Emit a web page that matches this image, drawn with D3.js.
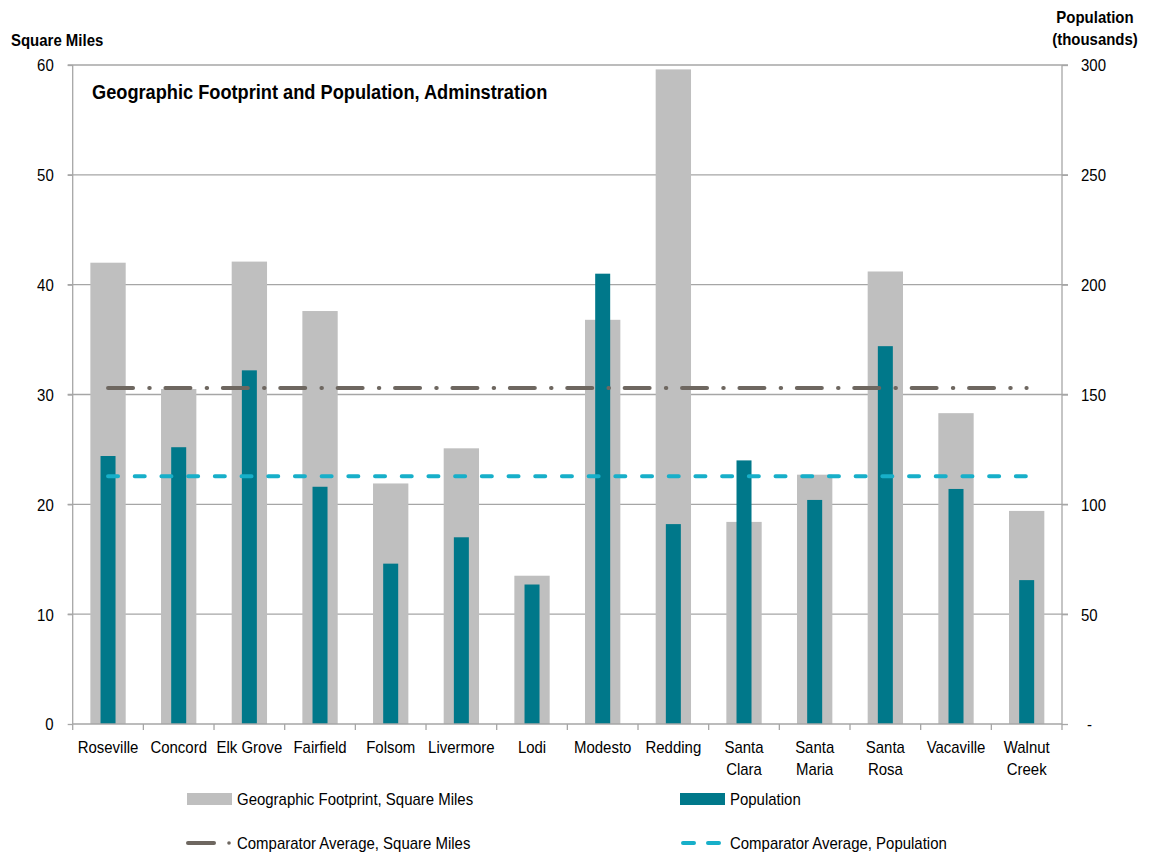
<!DOCTYPE html>
<html>
<head>
<meta charset="utf-8">
<script src="https://cdn.jsdelivr.net/npm/d3@7"></script>
<style>
  body { margin: 0; background: #fff; }
  text { font-family: "Liberation Sans", Arial, sans-serif; fill: #000; }
  .grid line { stroke: #a6a6a6; stroke-width: 1.3; }
  .axis path, .axis line { stroke: #a6a6a6; stroke-width: 1.3; }
</style>
</head>
<body>
<div id="chart"></div>
<script>
// data
var cities = ["Roseville", "Concord", "Elk Grove", "Fairfield", "Folsom", "Livermore", "Lodi",
  "Modesto", "Redding", "Santa Clara", "Santa Maria", "Santa Rosa", "Vacaville", "Walnut Creek"];
var squareMiles = [42.0, 30.5, 42.1, 37.6, 21.9, 25.1, 13.5, 36.8, 59.6, 18.4, 22.7, 41.2, 28.3, 19.4];
var population = [122, 126, 161, 108, 73, 85, 63.5, 205, 91, 120, 102, 172, 107, 65.5];
var avgSquareMiles = 30.6;
var avgPopulation = 112.8;
var leftTicks = [0, 10, 20, 30, 40, 50, 60];
var rightTicks = [0, 50, 100, 150, 200, 250, 300];

var width = 1154, height = 853;
var plotLeft = 72.7, plotRight = 1062, plotTop = 65, plotBottom = 724;
var squeeze = 0.88;  // reference font is a narrow face

// compress a text (or tspan) horizontally so it reads like the narrow font
function narrow(sel, f) {
  sel.each(function () {
    var len = this.getComputedTextLength();
    d3.select(this).attr("textLength", len * (f || squeeze)).attr("lengthAdjust", "spacingAndGlyphs");
  });
}

var svg = d3.select("#chart").append("svg")
  .attr("width", width)
  .attr("height", height);

var x = d3.scaleBand().domain(cities).range([plotLeft, plotRight]).padding(0);
var yL = d3.scaleLinear().domain([0, 60]).range([plotBottom, plotTop]);
var yR = d3.scaleLinear().domain([0, 300]).range([plotBottom, plotTop]);

// gridlines
svg.append("g").attr("class", "grid")
  .selectAll("line").data(leftTicks.filter(function (d) { return d > 0; }))
  .enter().append("line")
  .attr("x1", plotLeft - 5).attr("x2", plotRight + 6)
  .attr("y1", function (d) { return yL(d); })
  .attr("y2", function (d) { return yL(d); });

// bars
var bw = x.bandwidth();
svg.append("g").selectAll("rect").data(cities)
  .enter().append("rect")
  .attr("x", function (d) { return x(d) + bw * 0.25; })
  .attr("width", bw * 0.5)
  .attr("y", function (d, i) { return yL(squareMiles[i]); })
  .attr("height", function (d, i) { return plotBottom - yL(squareMiles[i]); })
  .attr("fill", "#bfbfbf");

svg.append("g").selectAll("rect").data(cities)
  .enter().append("rect")
  .attr("x", function (d) { return x(d) + bw / 2 - 7.5; })
  .attr("width", 15)
  .attr("y", function (d, i) { return yR(population[i]); })
  .attr("height", function (d, i) { return plotBottom - yR(population[i]); })
  .attr("fill", "#00788a");

// axes
var xAxis = svg.append("g").attr("class", "axis")
  .attr("transform", "translate(0," + plotBottom + ")");
xAxis.append("line").attr("x1", plotLeft).attr("x2", plotRight).attr("y1", 0).attr("y2", 0);
xAxis.selectAll(".tk").data(d3.range(cities.length + 1))
  .enter().append("line")
  .attr("x1", function (i) { return plotLeft + i * bw; })
  .attr("x2", function (i) { return plotLeft + i * bw; })
  .attr("y1", 0).attr("y2", 6);

var labels = xAxis.selectAll(".lbl").data(cities)
  .enter().append("text")
  .attr("text-anchor", "middle")
  .attr("font-size", 17)
  .attr("transform", function (d) { return "translate(" + (x(d) + bw / 2) + ",29)"; });
labels.each(function (d) {
  var t = d3.select(this);
  t.text(d);
  if (this.getComputedTextLength() * squeeze > bw - 1 && d.indexOf(" ") > 0) {
    var parts = d.split(" ");
    t.text(null);
    parts.forEach(function (p, k) {
      t.append("tspan").attr("x", 0).attr("dy", k === 0 ? 0 : 21.5).text(p);
    });
    narrow(t.selectAll("tspan"));
  } else {
    narrow(t);
  }
});

var leftAxis = svg.append("g").attr("class", "axis")
  .attr("transform", "translate(" + plotLeft + ",0)")
  .call(d3.axisLeft(yL).tickValues(leftTicks).tickSize(5).tickPadding(14));
leftAxis.select(".domain").attr("d", "M0," + plotTop + "V" + plotBottom);
leftAxis.selectAll("text").attr("font-size", 17).attr("dy", "0.35em").call(narrow);

var rightAxis = svg.append("g").attr("class", "axis")
  .attr("transform", "translate(" + plotRight + ",0)")
  .call(d3.axisRight(yR).tickValues(rightTicks).tickSize(6).tickPadding(13)
    .tickFormat(function (d) { return d === 0 ? "-" : d; }));
rightAxis.select(".domain").attr("d", "M0," + plotTop + "V" + plotBottom);
rightAxis.selectAll("text").attr("font-size", 17).attr("dy", "0.35em")
  .attr("dx", function (d) { return d === 0 ? 6 : 0; })
  .call(narrow);

// average lines
var x0 = x(cities[0]) + bw / 2, x1 = x(cities[cities.length - 1]) + bw / 2;
svg.append("line")
  .attr("x1", x0).attr("x2", x1)
  .attr("y1", yL(avgSquareMiles)).attr("y2", yL(avgSquareMiles))
  .attr("stroke", "#6e6760").attr("stroke-width", 4)
  .attr("stroke-linecap", "round")
  .attr("stroke-dasharray", "25 16.2 0.5 15.7");

svg.append("line")
  .attr("x1", x0).attr("x2", x1)
  .attr("y1", yR(avgPopulation)).attr("y2", yR(avgPopulation))
  .attr("stroke", "#17afc9").attr("stroke-width", 4)
  .attr("stroke-linecap", "round")
  .attr("stroke-dasharray", "10 16.7");

// titles
svg.append("text").attr("x", 92).attr("y", 99)
  .attr("font-size", 20).attr("font-weight", "bold")
  .text("Geographic Footprint and Population, Adminstration")
  .call(narrow, 0.91);

svg.append("text").attr("x", 11).attr("y", 46)
  .attr("font-size", 17).attr("font-weight", "bold")
  .text("Square Miles").call(narrow);

svg.append("text").attr("x", 1095).attr("y", 23)
  .attr("text-anchor", "middle").attr("font-size", 17).attr("font-weight", "bold")
  .text("Population").call(narrow);
svg.append("text").attr("x", 1095).attr("y", 45)
  .attr("text-anchor", "middle").attr("font-size", 17).attr("font-weight", "bold")
  .text("(thousands)").call(narrow);

// legend
var legend = svg.append("g");
legend.append("rect").attr("x", 187).attr("y", 793).attr("width", 45).attr("height", 12).attr("fill", "#bfbfbf");
legend.append("text").attr("x", 237).attr("y", 805).attr("font-size", 17)
  .text("Geographic Footprint, Square Miles").call(narrow);
legend.append("rect").attr("x", 680).attr("y", 793).attr("width", 45).attr("height", 12).attr("fill", "#00788a");
legend.append("text").attr("x", 730).attr("y", 805).attr("font-size", 17)
  .text("Population").call(narrow);

legend.append("line").attr("x1", 188).attr("x2", 214).attr("y1", 843).attr("y2", 843)
  .attr("stroke", "#6e6760").attr("stroke-width", 4).attr("stroke-linecap", "round");
legend.append("circle").attr("cx", 229).attr("cy", 843).attr("r", 1.8).attr("fill", "#6e6760");
legend.append("text").attr("x", 237).attr("y", 849).attr("font-size", 17)
  .text("Comparator Average, Square Miles").call(narrow);
legend.append("line").attr("x1", 683).attr("x2", 724).attr("y1", 843).attr("y2", 843)
  .attr("stroke", "#17afc9").attr("stroke-width", 4).attr("stroke-linecap", "round")
  .attr("stroke-dasharray", "11 14");
legend.append("text").attr("x", 730).attr("y", 849).attr("font-size", 17)
  .text("Comparator Average, Population").call(narrow);
</script>
</body>
</html>
